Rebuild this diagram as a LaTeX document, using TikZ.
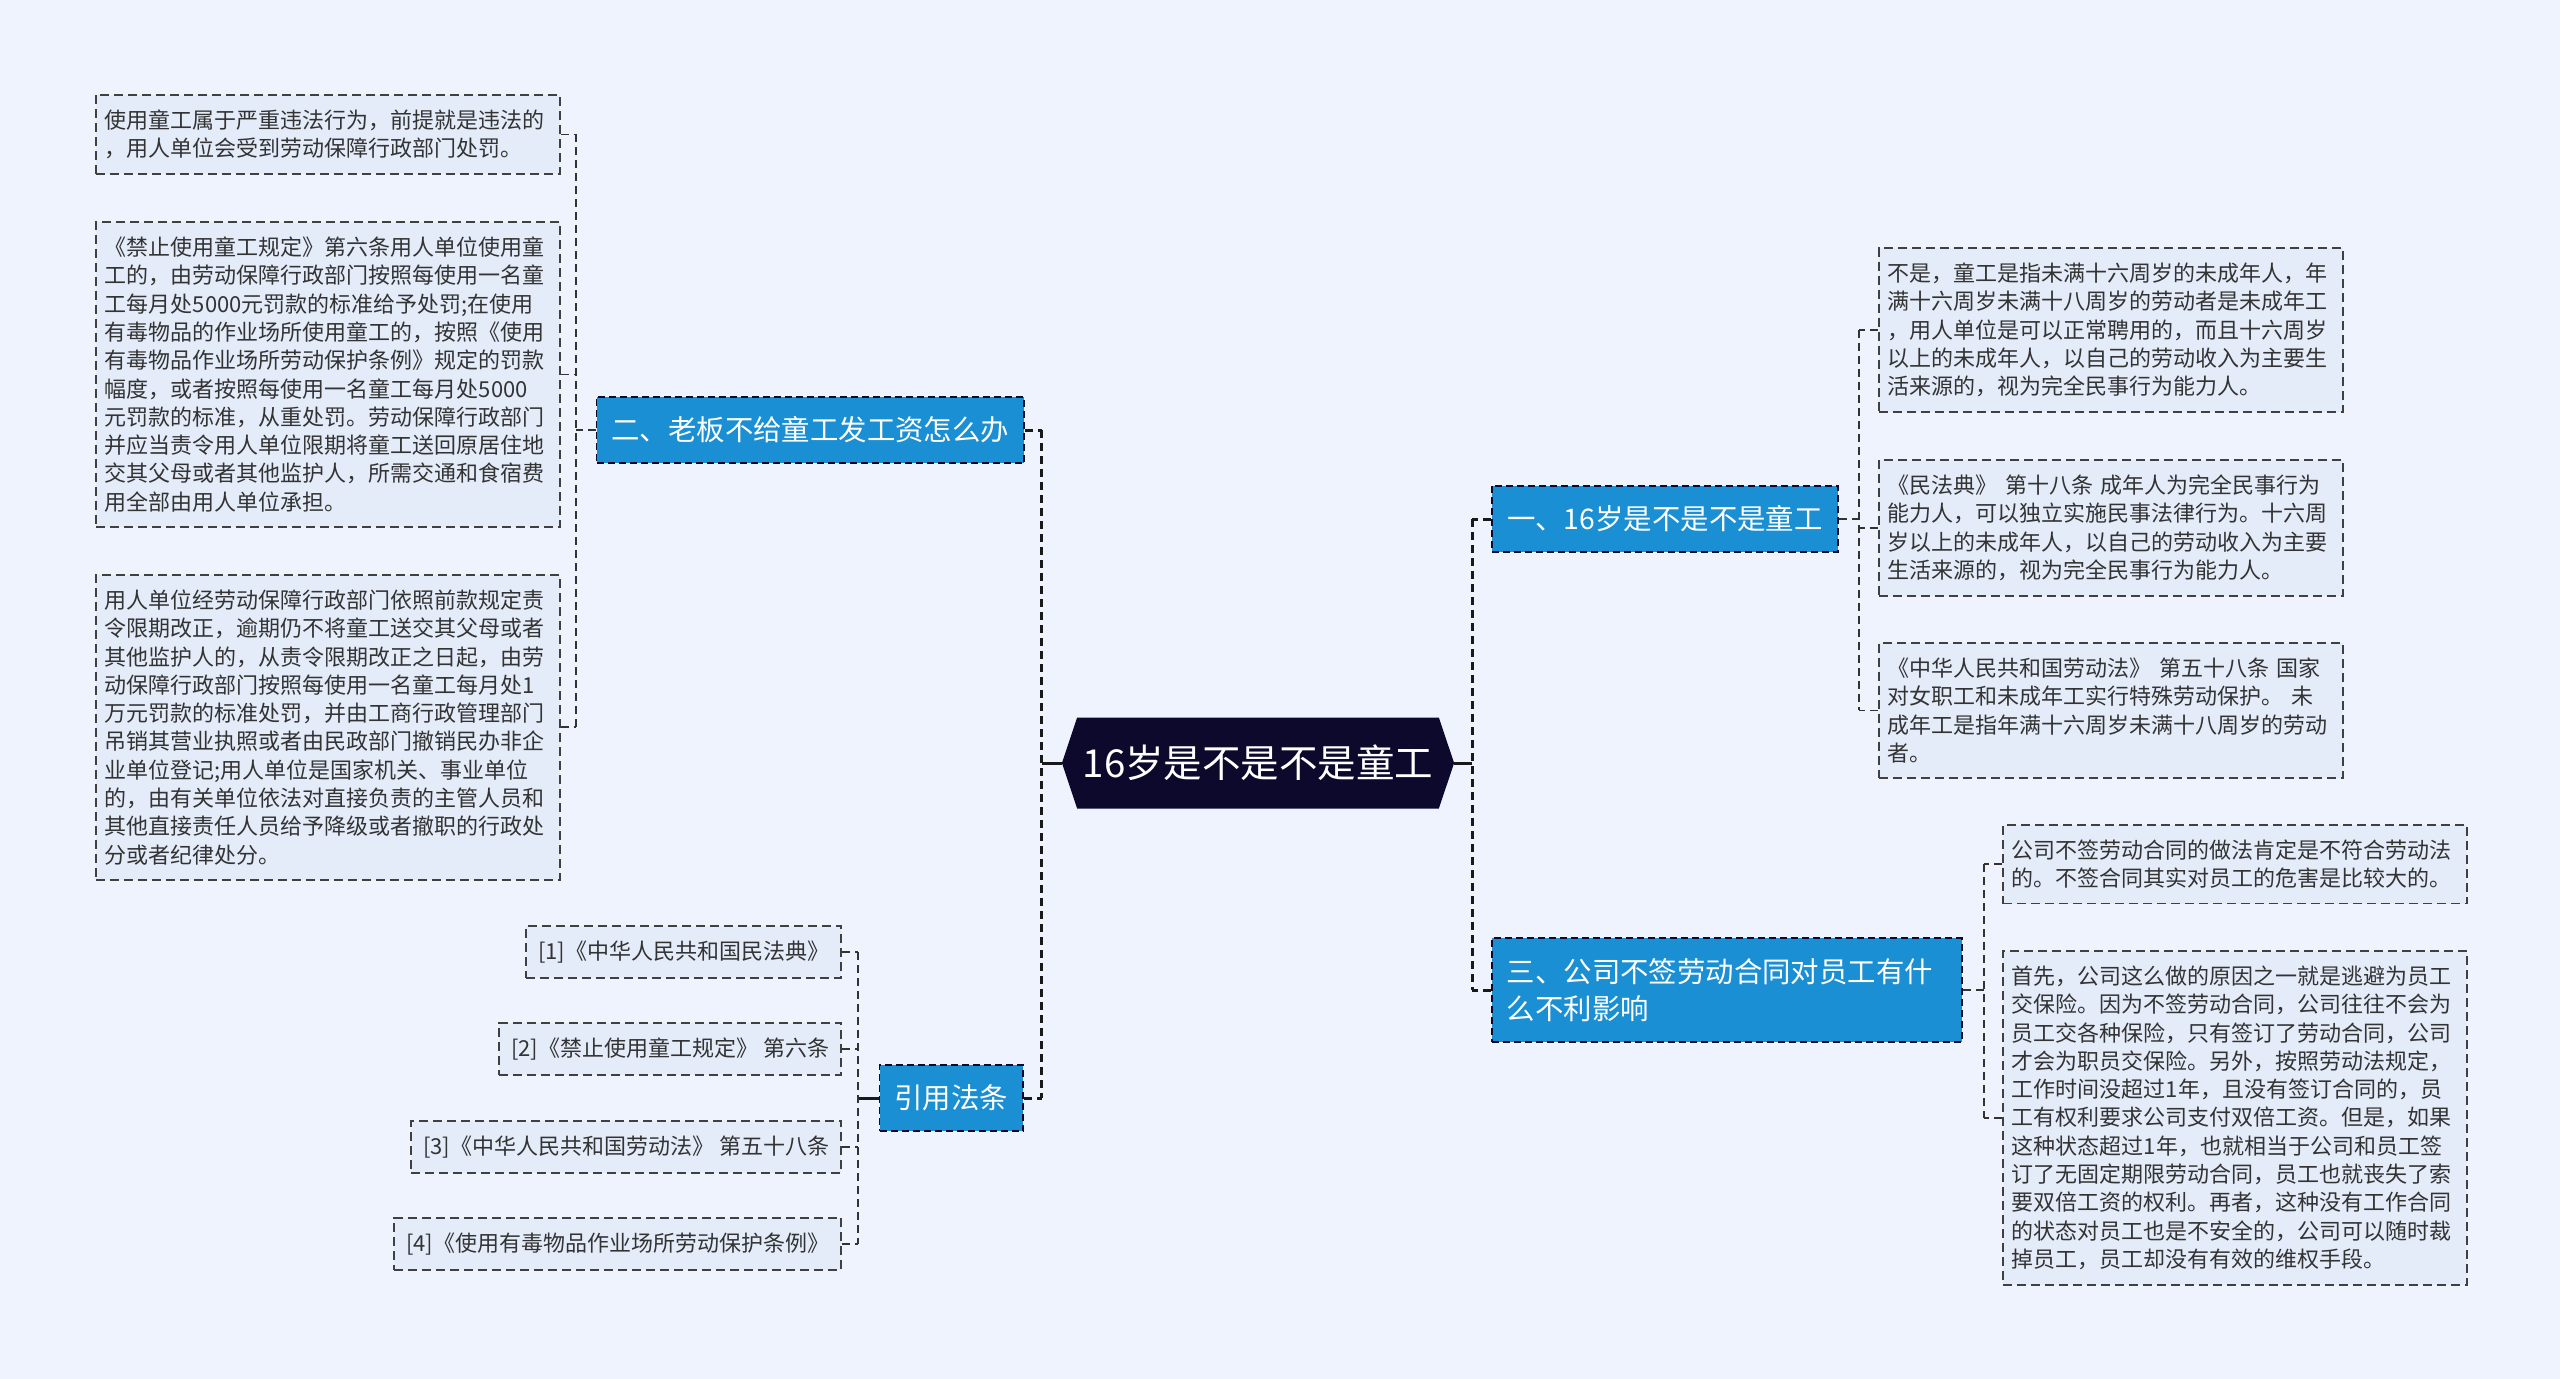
\documentclass[tikz,border=0pt]{standalone}
\usepackage{fontspec}
\setmainfont{Noto Sans CJK SC}
\usetikzlibrary{shapes.symbols}

\definecolor{bgblue}{RGB}{238,243,253}
\definecolor{leaffill}{RGB}{228,236,250}
\definecolor{topicblue}{RGB}{26,143,211}
\definecolor{hubnavy}{RGB}{12,9,44}
\definecolor{inkgray}{RGB}{51,51,51}

\begin{document}
\begin{tikzpicture}[x=1pt,y=-1pt,
  leaf/.style={draw=black!75, line width=1.6pt, dash pattern=on 9pt off 5pt,
    fill=leaffill, text=inkgray, font=\fontsize{22}{28.3}\selectfont,
    align=left, text width=446pt, inner xsep=9pt, inner ysep=15pt},
  refbox/.style={leaf, text width={}, inner xsep=12pt},
  topic/.style={draw=hubnavy, line width=1.8pt, dash pattern=on 7pt off 4pt,
    fill=topicblue, text=white, font=\fontsize{28.4}{37}\selectfont,
    align=left, inner xsep=15pt, inner ysep=20pt},
  link/.style={draw=black!90, line width=3pt, dash pattern=on 8pt off 5pt},
  twig/.style={draw=black!80, line width=1.8pt, dash pattern=on 8pt off 5pt},
  stub/.style={draw=black!90, line width=3pt}]
  \fill[bgblue] (0,0) rectangle (2560,1379);
  \useasboundingbox (0,0) rectangle (2560,1379);

  % central topic
  \node[signal, signal to=east and west, signal pointer angle=143,
    fill=hubnavy, text=white, font=\fontsize{38.5}{46}\selectfont,
    minimum height=91pt, inner xsep=5.5pt] (hub) at (1258,763) {16岁是不是不是童工};

  % left branches
  \node[topic, anchor=east] (b2) at (1025,430) {二、老板不给童工发工资怎么办};
  \node[topic, anchor=east] (bref) at (1024,1098) {引用法条};

  \node[leaf, anchor=north west] (l2a) at (95,94)
    {使用童工属于严重违法行为，前提就是违法的\\，用人单位会受到劳动保障行政部门处罚。};
  \node[leaf, anchor=north west] (l2b) at (95,221)
    {《禁止使用童工规定》第六条用人单位使用童\\工的，由劳动保障行政部门按照每使用一名童\\工每月处5000元罚款的标准给予处罚;在使用\\有毒物品的作业场所使用童工的，按照《使用\\有毒物品作业场所劳动保护条例》规定的罚款\\幅度，或者按照每使用一名童工每月处5000\\元罚款的标准，从重处罚。劳动保障行政部门\\并应当责令用人单位限期将童工送回原居住地\\交其父母或者其他监护人，所需交通和食宿费\\用全部由用人单位承担。};
  \node[leaf, anchor=north west] (l2c) at (95,574)
    {用人单位经劳动保障行政部门依照前款规定责\\令限期改正，逾期仍不将童工送交其父母或者\\其他监护人的，从责令限期改正之日起，由劳\\动保障行政部门按照每使用一名童工每月处1\\万元罚款的标准处罚，并由工商行政管理部门\\吊销其营业执照或者由民政部门撤销民办非企\\业单位登记;用人单位是国家机关、事业单位\\的，由有关单位依法对直接负责的主管人员和\\其他直接责任人员给予降级或者撤职的行政处\\分或者纪律处分。};

  \node[refbox, anchor=east] (r1) at (842,952) {[1]《中华人民共和国民法典》};
  \node[refbox, anchor=east] (r2) at (842,1049) {[2]《禁止使用童工规定》 第六条};
  \node[refbox, anchor=east] (r3) at (842,1147) {[3]《中华人民共和国劳动法》 第五十八条};
  \node[refbox, anchor=east] (r4) at (842,1244) {[4]《使用有毒物品作业场所劳动保护条例》};

  % right branches
  \node[topic, anchor=west, minimum width=346pt, align=center] (b1) at (1491,519) {一、16岁是不是不是童工};
  \node[topic, anchor=west, text width=440pt] (b3) at (1491,990) {三、公司不签劳动合同对员工有什\\么不利影响};

  \node[leaf, anchor=north west] (l1a) at (1878,247)
    {不是，童工是指未满十六周岁的未成年人，年\\满十六周岁未满十八周岁的劳动者是未成年工\\，用人单位是可以正常聘用的，而且十六周岁\\以上的未成年人，以自己的劳动收入为主要生\\活来源的，视为完全民事行为能力人。};
  \node[leaf, anchor=north west] (l1b) at (1878,459)
    {《民法典》 第十八条 成年人为完全民事行为\\能力人，可以独立实施民事法律行为。十六周\\岁以上的未成年人，以自己的劳动收入为主要\\生活来源的，视为完全民事行为能力人。};
  \node[leaf, anchor=north west] (l1c) at (1878,642)
    {《中华人民共和国劳动法》 第五十八条 国家\\对女职工和未成年工实行特殊劳动保护。 未\\成年工是指年满十六周岁未满十八周岁的劳动\\者。};

  \node[leaf, anchor=north west] (l3a) at (2002,824)
    {公司不签劳动合同的做法肯定是不符合劳动法\\的。不签合同其实对员工的危害是比较大的。};
  \node[leaf, anchor=north west] (l3b) at (2002,950)
    {首先，公司这么做的原因之一就是逃避为员工\\交保险。因为不签劳动合同，公司往往不会为\\员工交各种保险，只有签订了劳动合同，公司\\才会为职员交保险。另外，按照劳动法规定，\\工作时间没超过1年，且没有签订合同的，员\\工有权利要求公司支付双倍工资。但是，如果\\这种状态超过1年，也就相当于公司和员工签\\订了无固定期限劳动合同，员工也就丧失了索\\要双倍工资的权利。再者，这种没有工作合同\\的状态对员工也是不安全的，公司可以随时裁\\掉员工，员工却没有有效的维权手段。};

  % hub to branches
  \draw[stub] (hub.west) -- ++(-20,0) coordinate (hl);
  \draw[link] (hl |- b2.east) -- (hl |- bref.east);
  \foreach \n in {b2,bref} \draw[link] (\n.east) -- (hl |- \n.east);
  \draw[stub] (hub.east) -- ++(18,0) coordinate (hr);
  \draw[link] (hr |- b1.west) -- (hr |- b3.west);
  \foreach \n in {b1,b3} \draw[link] (\n.west) -- (hr |- \n.west);

  % branches to leaves
  \draw[twig] (b2.west) -- ++(-20,0) coordinate (t2);
  \draw[twig] (t2 |- l2a.east) -- (t2 |- l2c.east);
  \foreach \n in {l2a,l2b,l2c} \draw[twig] (\n.east) -- (t2 |- \n.east);

  \draw[stub] (bref.west) -- ++(-21,0) coordinate (tr);
  \draw[twig] (tr |- r1.east) -- (tr |- r4.east);
  \foreach \n in {r1,r2,r3,r4} \draw[twig] (\n.east) -- (tr |- \n.east);

  \draw[twig] (b1.east) -- ++(20,0) coordinate (t1);
  \draw[twig] (t1 |- l1a.west) -- (t1 |- l1c.west);
  \foreach \n in {l1a,l1b,l1c} \draw[twig] (\n.west) -- (t1 |- \n.west);

  \draw[twig] (b3.east) -- ++(21,0) coordinate (t3);
  \draw[twig] (t3 |- l3a.west) -- (t3 |- l3b.west);
  \foreach \n in {l3a,l3b} \draw[twig] (\n.west) -- (t3 |- \n.west);
\end{tikzpicture}
\end{document}
